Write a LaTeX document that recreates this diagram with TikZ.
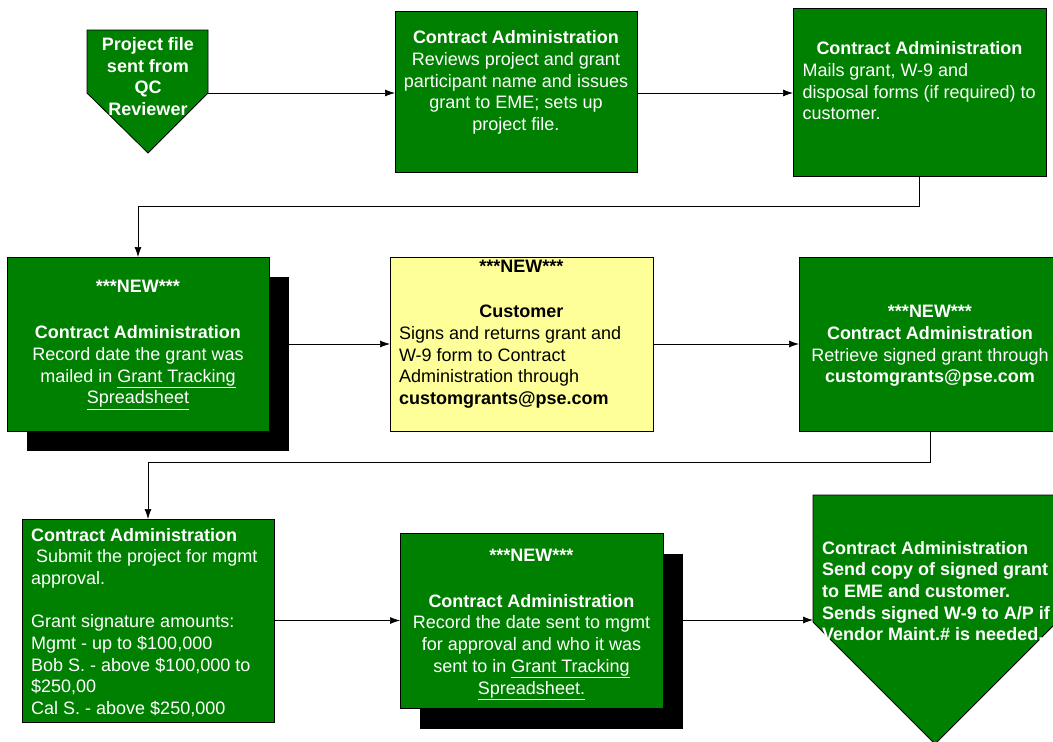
\documentclass[tikz,border=0pt]{standalone}
\usepackage{fontspec}
\setmainfont{Liberation Sans}
\usetikzlibrary{arrows.meta,calc}
\definecolor{dgreen}{RGB}{0,128,0}
\definecolor{lyellow}{RGB}{255,255,153}
\begin{document}
\begin{tikzpicture}[x=1pt,y=-1pt,
  gbox/.style={draw=black, line width=0.8pt, fill=dgreen, inner sep=0pt, outer sep=0pt},
  ybox/.style={gbox, fill=lyellow},
  shad/.style={fill=black, inner sep=0pt, outer sep=0pt},
  offpage/.style={draw=black, line width=0.8pt, fill=dgreen},
  txt/.style={inner sep=0pt, align=center, font=\fontsize{18}{21.7}\selectfont},
  wt/.style={txt, text=white},
  arr/.style={draw=black, line width=0.7pt, -{Latex[length=10pt,width=7pt]}}]
\fill[white] (0,0) rectangle (1053,742);
\useasboundingbox (0,0) rectangle (1053,742);

% off-page connector (start)
\draw[offpage] (87,30) -- (208,30) -- (208,93) -- (148,153) -- (87,93) -- cycle;
\coordinate (qcout) at (208,93);
\node[wt, font=\fontsize{18}{21.7}\selectfont\bfseries] (t1) at (148,76.5) {Project file\\sent from\\QC\\Reviewer};

% row 1
\node[gbox, minimum width=242pt, minimum height=161pt] (b2) at (516,91.5) {};
\node[wt] (t2) at (516,82.5) {{\bfseries Contract Administration}\\Reviews project and grant\\participant name and issues\\grant to EME; sets up\\project file.};
\node[gbox, minimum width=253pt, minimum height=168pt] (b3) at (919.5,92) {};
\node[wt] (t3) at (919.5,83) {\begin{tabular}{@{}p{234pt}@{}}\multicolumn{1}{@{}c@{}}{\bfseries Contract Administration}\\Mails grant, W-9 and\\disposal forms (if required) to\\customer.\end{tabular}};

% row 2
\node[shad, minimum width=262pt, minimum height=174pt] (s4) at (158,364) {};
\node[gbox, minimum width=262pt, minimum height=174pt] (b4) at (138,344) {};
\node[wt] (t4) at (138,345) {{\bfseries ***NEW***}\\[24pt]{\bfseries Contract Administration}\\Record date the grant was\\mailed in \underline{Grant Tracking}\\\underline{Spreadsheet}};
\node[ybox, minimum width=263pt, minimum height=174pt] (b5) at (521.5,344) {};
\node[txt, text=black] (t5) at (521.5,334) {\begin{tabular}{@{}p{245pt}@{}}\multicolumn{1}{@{}c@{}}{\bfseries ***NEW***}\\[2pt]\\\multicolumn{1}{@{}c@{}}{\bfseries Customer}\\Signs and returns grant and\\W-9 form to Contract\\Administration through\\\textbf{customgrants@pse.com}\end{tabular}};
\node[gbox, minimum width=262pt, minimum height=174pt] (b6) at (930,344) {};
\node[wt] (t6) at (930,346) {{\bfseries ***NEW***}\\{\bfseries Contract Administration}\\Retrieve signed grant through\\\textbf{customgrants@pse.com}};

% row 3
\node[gbox, minimum width=252pt, minimum height=203pt] (b7) at (148,620.5) {};
\node[wt, align=left, anchor=west] (t7) at (31,622.5) {{\bfseries Contract Administration}\\~Submit the project for mgmt\\approval.\\[21.7pt]Grant signature amounts:\\Mgmt - up to \$100,000\\Bob S. - above \$100,000 to\\\$250,00\\Cal S. - above \$250,000};
\node[shad, minimum width=263pt, minimum height=175pt] (s8) at (551.5,641) {};
\node[gbox, minimum width=263pt, minimum height=175pt] (b8) at (531.5,621) {};
\node[wt] (t8) at (531.5,624.5) {{\bfseries ***NEW***}\\[24pt]{\bfseries Contract Administration}\\Record the date sent to mgmt\\for approval and who it was\\sent to in \underline{Grant Tracking}\\\underline{Spreadsheet.}};

% off-page connector (end)
\draw[offpage] (813,495) -- (1057,495) -- (1057,622) -- (935,744) -- (813,622) -- cycle;
\coordinate (endin) at (813,620);
\node[wt, align=left, anchor=west, font=\fontsize{18}{21.7}\selectfont\bfseries] (t9) at (822,591) {Contract Administration\\Send copy of signed grant\\to EME and customer.\\Sends signed W-9 to A/P if\\Vendor Maint.\# is needed.};

% connectors
\draw[arr] (qcout) -- (b2.west |- qcout);
\draw[arr] (b2.east |- qcout) -- (b3.west |- qcout);
\draw[arr] (b3.south) -- ++(0,30) -| (b4.north);
\draw[arr] (s4.east |- b4.east) -- (b5.west);
\draw[arr] (b5.east) -- (b6.west);
\draw[arr] (b6.south) -- ++(0,31) -| (b7.north);
\draw[arr] (b7.east) -- (b8.west |- b7.east);
\draw[arr] (s8.east |- endin) -- (endin);
\end{tikzpicture}
\end{document}
